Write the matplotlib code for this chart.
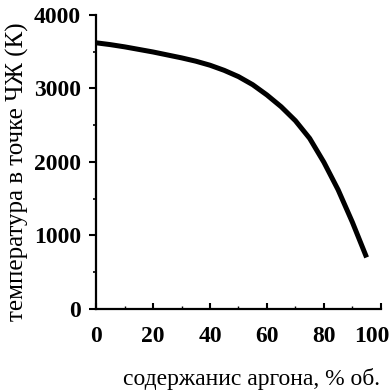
import numpy as np
import matplotlib.pyplot as plt
from matplotlib.ticker import MultipleLocator
from matplotlib.transforms import ScaledTranslation

# содержание аргона (% об.) и температура в точке ЧЖ (K)
argon = [0, 5, 10, 15, 20, 25, 30, 35, 40, 45, 50, 55, 60, 65, 70, 75, 80, 85, 90, 95]
temp = [3620, 3595, 3565, 3530, 3495, 3455, 3415, 3370, 3315, 3245,
        3160, 3050, 2910, 2750, 2560, 2320, 1995, 1620, 1180, 700]

x_ticks = [0, 20, 40, 60, 80, 100]
y_ticks = [0, 1000, 2000, 3000, 4000]

plt.rcParams['font.family'] = ['Liberation Serif', 'DejaVu Serif']

fig = plt.figure(figsize=(3.89, 3.91), dpi=100)
ax = fig.add_axes([0.247, 0.21, 0.732, 0.752])

ax.plot(argon, temp, color='black', lw=3.6, solid_capstyle='butt',
        solid_joinstyle='round')

ax.set_xlim(0, 100)
ax.set_ylim(0, 4000)
ax.set_xticks(x_ticks)
ax.set_yticks(y_ticks)
ax.yaxis.set_minor_locator(MultipleLocator(500))
ax.xaxis.set_minor_locator(MultipleLocator(10))

for s in ['top', 'right']:
    ax.spines[s].set_visible(False)
for s in ['left', 'bottom']:
    ax.spines[s].set_linewidth(1.6)

ax.tick_params(axis='y', which='major', direction='out', length=5, width=1.5,
               pad=6, labelsize=17)
ax.tick_params(axis='y', which='minor', direction='out', length=2, width=1.2)
ax.tick_params(axis='x', which='major', direction='in', length=4, width=1.5,
               pad=12, labelsize=17)
ax.tick_params(axis='x', which='minor', direction='in', length=2, width=1.0)
for lab in ax.get_xticklabels() + ax.get_yticklabels():
    lab.set_fontweight('bold')

# "100" sits a bit left so it stays inside the picture
last = ax.get_xticklabels()[-1]
last.set_transform(last.get_transform() + ScaledTranslation(-9 / 100, 0, fig.dpi_scale_trans))

ax.set_xlabel('содержанис аргона, % об.', fontsize=17)
ax.xaxis.set_label_coords(0.547, -0.2)
ax.set_ylabel('температура в точке ЧЖ (К)', fontsize=18)
ax.yaxis.set_label_coords(-0.235, 0.466)

fig.savefig('out.png', dpi=100)
